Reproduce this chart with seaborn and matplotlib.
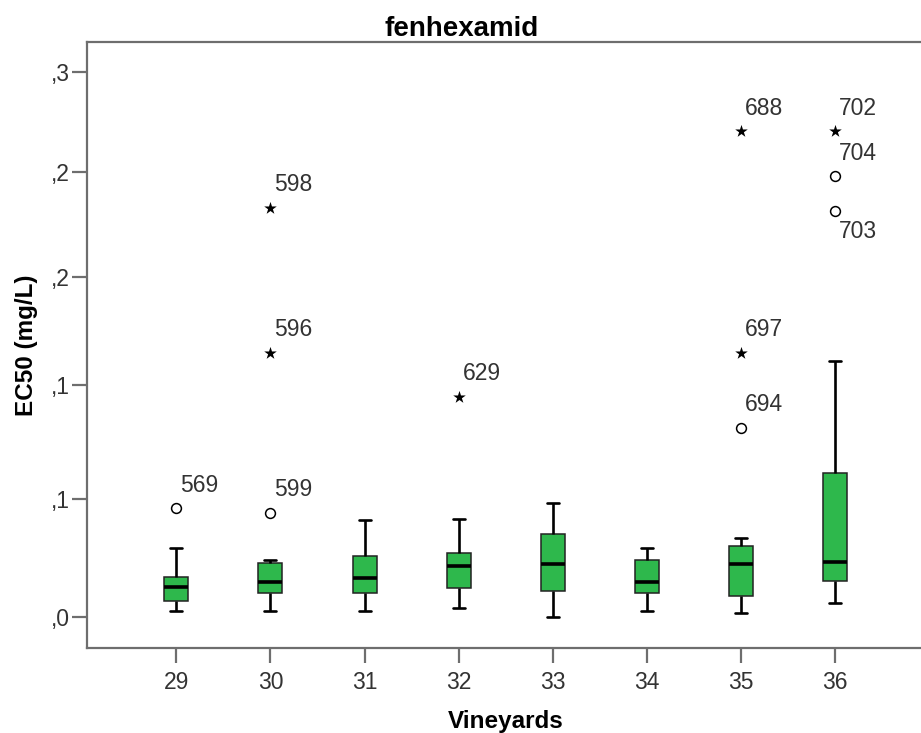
import numpy as np
import pandas as pd
import matplotlib
matplotlib.use("Agg")
import matplotlib.pyplot as plt
import seaborn as sns

# Five-number summary per vineyard (EC50, mg/L)
vineyards = ["29", "30", "31", "32", "33", "34", "35", "36"]
whisker_low = [0.0026, 0.0026, 0.0026, 0.0036, 0.0000, 0.0026, 0.0018, 0.0057]
q1 = [0.0068, 0.0101, 0.0098, 0.0122, 0.0108, 0.0098, 0.0087, 0.0151]
median = [0.0123, 0.0147, 0.0164, 0.0214, 0.0220, 0.0147, 0.0220, 0.0231]
q3 = [0.0168, 0.0224, 0.0256, 0.0266, 0.0347, 0.0238, 0.0297, 0.0612]
whisker_high = [0.0287, 0.0238, 0.0408, 0.0411, 0.0480, 0.0287, 0.0330, 0.1111]

# Flagged cases: outliers (o) and extreme values (*)
outlier_vineyard = ["29", "30", "30", "30", "32", "35", "35", "35", "36", "36", "36"]
outlier_value = [0.0458, 0.0439, 0.1147, 0.1829, 0.0949, 0.0810, 0.1147, 0.2203,
                 0.2203, 0.1982, 0.1813]
outlier_case = ["569", "599", "596", "598", "629", "694", "697", "688", "702", "704", "703"]
outlier_extreme = [False, False, True, True, True, False, True, True, True, False, False]

y_ticks = [0.0, 0.05, 0.10, 0.15, 0.20, 0.25]
y_tick_labels = [",0", ",1", ",1", ",2", ",2", ",3"]

sns.set_style("white")
plt.rcParams["font.family"] = ["Liberation Sans", "DejaVu Sans"]

GREEN = "#2eb84c"
INK = "#333333"
SPINE = "#6e6e6e"

rows = []
for i, v in enumerate(vineyards):
    for val in (whisker_low[i], q1[i], median[i], q3[i], whisker_high[i]):
        rows.append({"Vineyards": v, "EC50": val})
df = pd.DataFrame(rows)

W, H = 921, 733
fig = plt.figure(figsize=(W / 100, H / 100), dpi=100)
ax_left, ax_right, ax_top, ax_bottom = 87, 925, 42, 648.3
ax = fig.add_axes([ax_left / W, (H - ax_bottom) / H,
                   (ax_right - ax_left) / W, (ax_bottom - ax_top) / H])

sns.boxplot(data=df, x="Vineyards", y="EC50", order=vineyards, ax=ax,
            whis=(0, 100), showfliers=False, width=0.255, color=GREEN,
            saturation=1, linecolor="#222222", linewidth=1.1,
            medianprops=dict(color="black", linewidth=2.6),
            whiskerprops=dict(color="black", linewidth=1.9),
            capprops=dict(color="black", linewidth=1.9))

# widen the whisker caps to half the box width
for line in ax.lines:
    xd = np.asarray(line.get_xdata(), dtype=float)
    yd = np.asarray(line.get_ydata(), dtype=float)
    if len(xd) == 2 and yd[0] == yd[1] and line.get_color() == "black" and line.get_linewidth() < 2.2:
        c = xd.mean()
        line.set_xdata([c - 0.0638, c + 0.0638])

# outlier markers and case labels
pos = {v: i for i, v in enumerate(vineyards)}
for v, val, case, ext in zip(outlier_vineyard, outlier_value, outlier_case, outlier_extreme):
    x = pos[v]
    if ext:
        ax.scatter([x], [val], marker="*", s=90, color="black", linewidths=0, zorder=5)
    else:
        ax.scatter([x], [val], marker="o", s=50, facecolors="white",
                   edgecolors="black", linewidths=1.1, zorder=5)
    dy = -21 if case == "703" else 23
    ax.annotate(case, (x, val), xytext=(4, dy), textcoords="offset pixels",
                ha="left", va="center", fontsize=16.5, color=INK)

# vertical axis on a compressed (log-offset) scale
OFFSET = 1.086
ax.set_yscale("function", functions=(lambda v: np.log(np.asarray(v) + OFFSET),
                                     lambda u: np.exp(u) - OFFSET))
ax.set_ylim(-0.012845, 0.26532)
ax.set_xlim(-0.949, 7.956)
ax.set_yticks(y_ticks)
ax.set_yticklabels(y_tick_labels)
ax.yaxis.set_minor_locator(matplotlib.ticker.NullLocator())

for side in ("left", "bottom", "top"):
    ax.spines[side].set_visible(True)
    ax.spines[side].set_color(SPINE)
    ax.spines[side].set_linewidth(1.6)
ax.spines["right"].set_visible(False)

ax.tick_params(axis="both", which="major", direction="out", length=11, width=1.6,
               color=SPINE, labelsize=16.5, labelcolor=INK, left=True, bottom=True)
ax.tick_params(axis="x", pad=5)
ax.tick_params(axis="y", pad=1.5)

ax.set_xlabel("Vineyards", fontsize=17.5, fontweight="bold", color="black")
ax.xaxis.set_label_coords(0.5, -(710 - ax_bottom) / (ax_bottom - ax_top))
ax.set_ylabel("EC50 (mg/L)", fontsize=17.5, fontweight="bold", color="black")
ax.yaxis.set_label_coords(-0.058, 0.5)

fig.text(462 / W, (H - 36) / H, "fenhexamid", ha="center", va="baseline",
         fontsize=20, fontweight="bold", color="black")

fig.savefig("out.png", dpi=100, facecolor="white")
